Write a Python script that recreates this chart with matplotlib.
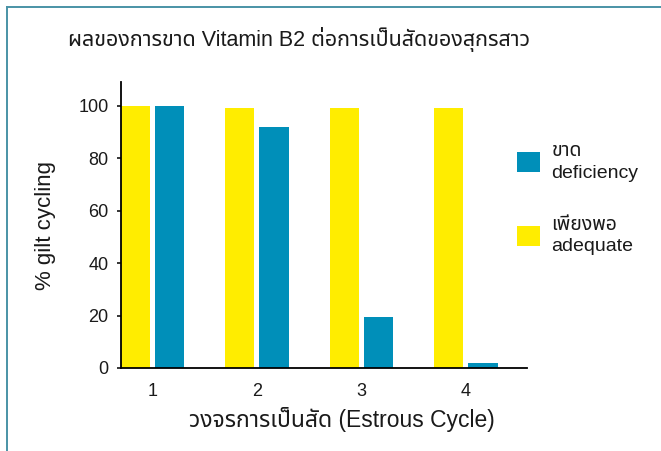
import matplotlib
matplotlib.use('Agg')
import numpy as np
import matplotlib.pyplot as plt
from matplotlib.patches import Patch
from matplotlib.lines import Line2D

plt.rcParams['font.family'] = ['Liberation Sans', 'Noto Sans Thai']

# data
cycles = ['1', '2', '3', '4']
adequate = [100, 99, 99, 99]
deficiency = [100, 92, 19.5, 2]

yellow = '#FFED00'
blue = '#008FB9'
frame_col = '#4a93a6'
txt = '#1a1a1a'

fig = plt.figure(figsize=(6.61, 4.51), dpi=100)
ax = fig.add_axes([121 / 661, 1 - 368 / 451, 406 / 661, 286 / 451])

x = np.arange(1, len(cycles) + 1)
w = 0.278
off = 0.163
ax.bar(x - off, adequate, w, color=yellow, zorder=2)
ax.bar(x + off, deficiency, w, color=blue, zorder=2)

ax.set_xlim(0.699, 4.584)
ax.set_ylim(0, 109)
ax.set_xticks(x)
ax.set_xticklabels(cycles)
ax.set_yticks([0, 20, 40, 60, 80, 100])
ax.tick_params(axis='x', length=0, pad=11, labelsize=13, labelcolor=txt)
ax.tick_params(axis='y', length=3, width=1.1, pad=6, labelsize=13, color='black', labelcolor=txt)
for s in ['top', 'right']:
    ax.spines[s].set_visible(False)
for s in ['left', 'bottom']:
    ax.spines[s].set_linewidth(1.3)

ax.set_ylabel('% gilt cycling', fontsize=16, labelpad=16, color=txt)
ax.set_xlabel('วงจรการเป็นสัด (Estrous Cycle)', fontsize=16.5, labelpad=5, color=txt)
ax.xaxis.label.set_x((342 - 121) / 406)

fig.text(299 / 661, 1 - 40 / 451, 'ผลของการขาด Vitamin B2 ต่อการเป็นสัดของสุกรสาว',
         fontsize=15.5, ha='center', va='center', color=txt)

handles = [Patch(facecolor=blue), Patch(facecolor=yellow)]
labels = ['ขาด\ndeficiency', 'เพียงพอ\nadequate']
leg = ax.legend(handles, labels, loc='upper left', bbox_to_anchor=(517 / 661, 1 - 143 / 451),
                bbox_transform=fig.transFigure, frameon=False, fontsize=14, labelcolor=txt,
                handlelength=1.18, handleheight=1.18, handletextpad=0.6,
                labelspacing=1.8, borderpad=0, borderaxespad=0)
for t in leg.get_texts():
    t.set_linespacing(1.35)

# frame lines at top and left of the picture
fig.add_artist(Line2D([7 / 661, 1], [1 - 7 / 451, 1 - 7 / 451], color=frame_col, lw=1.4,
                      transform=fig.transFigure))
fig.add_artist(Line2D([7 / 661, 7 / 661], [0, 1 - 7 / 451], color=frame_col, lw=1.4,
                      transform=fig.transFigure))

fig.savefig('out.png', dpi=100)
